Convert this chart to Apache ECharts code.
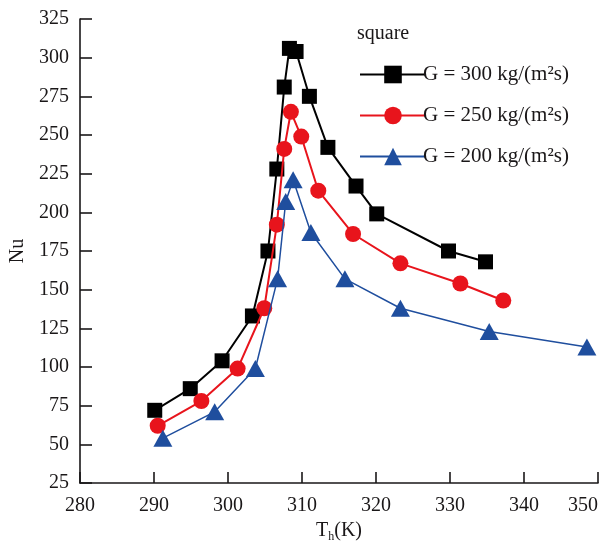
<!DOCTYPE html>
<html lang="en">
<head>
    <meta charset="UTF-8">
    <title>Nu vs Th</title>
    <script src="https://cdn.jsdelivr.net/npm/echarts@6/dist/echarts.min.js"></script>
    <style>
        html, body { margin: 0; padding: 0; background: #fff; }
        #chart { width: 612px; height: 546px; }
    </style>
</head>
<body>
<div id="chart"></div>
<script>
    // G = 300 kg/(m2s)
    var t300 = [290.1, 294.9, 299.2, 303.3, 305.4, 306.6, 307.6, 308.3, 309.2, 311.0, 313.5, 317.3, 320.1, 329.8, 334.8];
    var nu300 = [72, 86, 104, 133, 175, 228, 281, 306, 304, 275, 242, 217, 199, 175, 168];
    // G = 250 kg/(m2s)
    var t250 = [290.5, 296.4, 301.3, 304.9, 306.6, 307.6, 308.5, 309.9, 312.2, 316.9, 323.3, 331.4, 337.2];
    var nu250 = [62, 78, 99, 138, 192, 241, 265, 249, 214, 186, 167, 154, 143];
    // G = 200 kg/(m2s)
    var t200 = [291.2, 298.2, 303.7, 306.7, 307.8, 308.8, 311.2, 315.8, 323.3, 335.3, 348.5];
    var nu200 = [54, 71, 99, 157, 207, 221, 187, 157, 138, 123, 113];

    var names = ['G = 300 kg/(m²s)', 'G = 250 kg/(m²s)', 'G = 200 kg/(m²s)'];

    function pairs(xs, ys) {
        var out = [];
        for (var i = 0; i < xs.length; i++) {
            out.push([xs[i], ys[i]]);
        }
        return out;
    }

    var font = 'Liberation Serif';
    var ink = '#1a1718';
    var mychart = echarts.init(document.getElementById('chart'), null, {renderer: 'canvas'});
    var option = {
        backgroundColor: '#fff',
        animation: false,
        title: {
            text: 'square',
            left: 352,
            top: 19,
            textStyle: {fontFamily: font, fontSize: 20, fontWeight: 'normal', color: ink}
        },
        legend: {
            orient: 'vertical',
            left: 354,
            top: 59,
            itemWidth: 66,
            itemHeight: 22,
            itemGap: 20,
            textStyle: {fontFamily: font, fontSize: 21, color: ink, padding: [0, 0, 0, -8]},
            data: names
        },
        grid: {
            left: 80,
            right: 14,
            top: 19,
            bottom: 63,
            containLabel: false,
            outerBoundsMode: 'none'
        },
        xAxis: {
            type: 'value',
            min: 280,
            max: 350,
            interval: 10,
            name: 'T{sub|h}(K)',
            nameLocation: 'middle',
            nameGap: 33,
            nameTextStyle: {
                fontFamily: font, fontSize: 20, color: ink,
                rich: {
                    sub: {fontFamily: font, fontSize: 12, color: ink, verticalAlign: 'bottom', padding: [12, 0, 0, 0]}
                }
            },
            axisLine: {lineStyle: {color: ink, width: 1.6}},
            axisTick: {inside: true, length: 11, lineStyle: {color: ink, width: 1.6}},
            axisLabel: {fontFamily: font, fontSize: 20, color: ink, margin: 13, alignMaxLabel: 'right'},
            splitLine: {show: false}
        },
        yAxis: {
            type: 'value',
            min: 25,
            max: 325,
            interval: 25,
            name: 'Nu',
            nameLocation: 'middle',
            nameGap: 52,
            nameRotate: 90,
            nameTextStyle: {fontFamily: font, fontSize: 20, color: ink},
            axisLine: {show: true, lineStyle: {color: ink, width: 1.6}},
            axisTick: {show: true, inside: true, length: 12, lineStyle: {color: ink, width: 1.6}},
            axisLabel: {fontFamily: font, fontSize: 20, color: ink, margin: 11},
            splitLine: {show: false}
        },
        series: [
            {
                name: names[0],
                type: 'line',
                data: pairs(t300, nu300),
                symbol: 'rect',
                symbolSize: 15,
                lineStyle: {color: '#000', width: 2},
                itemStyle: {color: '#000'},
                z: 3
            },
            {
                name: names[1],
                type: 'line',
                data: pairs(t250, nu250),
                symbol: 'circle',
                symbolSize: 16,
                lineStyle: {color: '#e8141c', width: 2},
                itemStyle: {color: '#e8141c'},
                z: 4
            },
            {
                name: names[2],
                type: 'line',
                data: pairs(t200, nu200),
                symbol: 'triangle',
                symbolSize: [19, 17],
                lineStyle: {color: '#1f4e9e', width: 1.5},
                itemStyle: {color: '#1f4e9e'},
                z: 5
            }
        ]
    };
    mychart.setOption(option);
</script>
</body>
</html>
